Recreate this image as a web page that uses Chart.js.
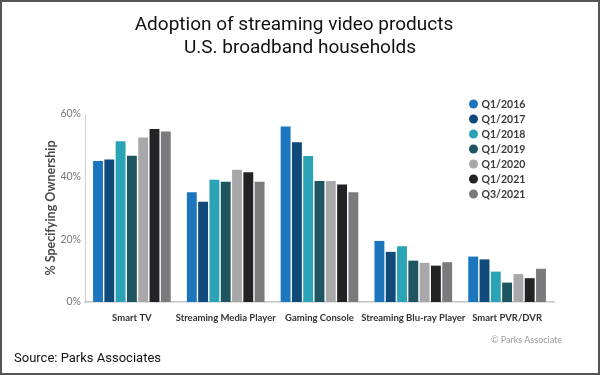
<!DOCTYPE html>
<html>
<head>
<meta charset="utf-8">
<script src="https://cdn.jsdelivr.net/npm/chart.js@4.4.1/dist/chart.umd.min.js"></script>
<style>
  body { margin: 0; background: #fff; }
  .frame {
    position: relative; width: 600px; height: 375px;
    box-sizing: border-box; border: 2px solid #555; overflow: hidden; background: #fff;
  }
  canvas { position: absolute; left: 0; top: 0; }
  .title {
    position: absolute; left: 0; width: 600px; text-align: center;
    font-family: Roboto, sans-serif; font-size: 19px; color: #111; line-height: 23px;
  }
  .source {
    position: absolute; left: 12px; top: 348px;
    font-family: Roboto, sans-serif; font-size: 13px; color: #111;
  }
  .credit {
    position: absolute; left: 489px; top: 332px;
    font-family: Lato, sans-serif; font-size: 9px; color: #9a9a9a;
  }
</style>
</head>
<body>
<div class="frame">
  <canvas id="chart" width="600" height="375"></canvas>
  <div class="title" style="top: 10px; left: -8px;">Adoption of streaming video products</div>
  <div class="title" style="top: 33px; left: -2px;">U.S. broadband households</div>
  <div class="credit">© Parks Associate</div>
  <div class="source">Source: Parks Associates</div>
</div>
<script>
const categories = ['Smart TV', 'Streaming Media Player', 'Gaming Console', 'Streaming Blu-ray Player', 'Smart PVR/DVR'];
const seriesNames = ['Q1/2016', 'Q1/2017', 'Q1/2018', 'Q1/2019', 'Q1/2020', 'Q1/2021', 'Q3/2021'];
const seriesColors = ['#1b76bd', '#0f4a7b', '#2aa3b6', '#1f5561', '#a8a8aa', '#232326', '#7b7b7e'];

// % specifying ownership, one array per survey wave
const q1_2016 = [45, 35, 56, 19.5, 14.5];
const q1_2017 = [45.5, 32, 51, 16, 13.6];
const q1_2018 = [51.3, 39, 46.6, 17.8, 9.7];
const q1_2019 = [46.7, 38.4, 38.6, 13.2, 6.2];
const q1_2020 = [52.5, 42.2, 38.6, 12.5, 8.9];
const q1_2021 = [55.2, 41.4, 37.5, 11.6, 7.6];
const q3_2021 = [54.4, 38.4, 35, 12.7, 10.6];
const seriesValues = [q1_2016, q1_2017, q1_2018, q1_2019, q1_2020, q1_2021, q3_2021];

const yTicks = [0, 20, 40, 60];

const legendInPlot = {
  id: 'legendInPlot',
  afterDraw(chart) {
    const ctx = chart.ctx;
    ctx.save();
    ctx.font = 'bold 10.5px Lato, sans-serif';
    ctx.textBaseline = 'middle';
    chart.data.datasets.forEach((ds, i) => {
      const y = 102 + i * 15;
      ctx.fillStyle = ds.backgroundColor;
      ctx.beginPath();
      ctx.arc(471.5, y, 4.5, 0, Math.PI * 2);
      ctx.fill();
      ctx.fillStyle = '#3a3a3a';
      ctx.fillText(ds.label, 479.5, y + 0.5);
    });
    ctx.restore();
  }
};

const datasets = seriesNames.map((name, i) => ({
  label: name,
  data: seriesValues[i],
  backgroundColor: seriesColors[i],
  borderWidth: 0,
  categoryPercentage: 0.843,
  barPercentage: 0.876,
}));

new Chart(document.getElementById('chart').getContext('2d'), {
  type: 'bar',
  data: { labels: categories, datasets: datasets },
  plugins: [legendInPlot],
  options: {
    responsive: false,
    animation: false,
    layout: { padding: { top: 112, left: 37, right: 48, bottom: 35 } },
    plugins: {
      legend: { display: false },
      tooltip: { enabled: false },
    },
    scales: {
      x: {
        grid: { display: false, drawTicks: false },
        border: { display: true, color: '#c4c4c4', width: 1.5 },
        ticks: {
          color: '#333',
          font: { family: 'Lato, sans-serif', size: 9.5, weight: 'bold' },
          padding: 10,
          maxRotation: 0,
          autoSkip: false,
        },
        afterFit: (s) => { s.height = 40; },
      },
      y: {
        min: 0,
        max: 60,
        afterBuildTicks: (s) => { s.ticks = yTicks.map(v => ({ value: v })); },
        grid: { display: false, drawTicks: false },
        border: { display: true, color: '#cfcfcf', width: 1, dash: [1, 2] },
        ticks: {
          color: '#777',
          font: { family: 'Lato, sans-serif', size: 10.5 },
          padding: 4,
          callback: (v) => v + '%',
        },
        title: {
          display: true,
          text: '% Specifying Ownership',
          color: '#4a4a4a',
          font: { family: 'Lato, sans-serif', size: 12.5, weight: 'bold' },
          padding: { top: 4, bottom: 4 },
        },
        afterFit: (s) => { s.width = 46; },
      },
    },
  },
});
</script>
</body>
</html>
